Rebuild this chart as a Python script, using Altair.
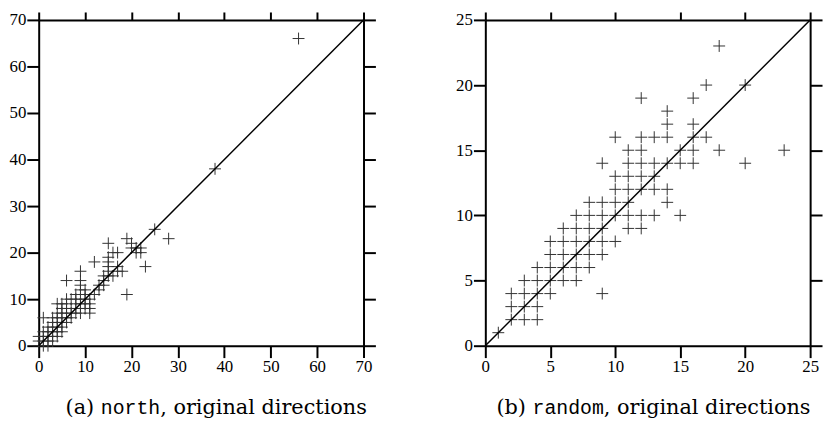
import altair as alt
import pandas as pd

# ---- data ----
north_x = [0,0,0,1,1,1,1,1,2,2,2,2,2,3,3,3,3,3,3,4,4,4,4,4,4,4,5,5,5,5,5,5,5,
           6,6,6,6,6,6,6,7,7,7,7,8,8,8,8,8,9,9,9,9,9,9,9,9,10,10,10,10,10,
           11,11,11,11,12,12,13,13,14,14,14,15,15,15,15,15,15,16,16,17,17,17,18,
           19,19,20,20,21,21,22,22,23,25,28,38,56]
north_y = [0,1,2,0,1,2,3,6,0,1,2,3,4,1,2,3,4,5,6,2,3,4,5,6,7,9,3,4,5,6,7,8,9,
           5,6,7,8,9,10,14,6,7,8,10,7,8,9,10,11,7,8,9,10,12,13,14,16,8,9,10,11,12,
           7,8,9,10,11,18,12,13,13,14,15,15,16,17,18,19,22,15,20,16,17,20,16,
           11,23,21,22,20,21,20,21,17,25,23,38,66]

random_x = [1,
            2,3,4,
            2,3,4,
            2,3,4,5,9,
            3,4,5,6,7,
            4,5,6,7,8,
            5,6,7,8,9,
            5,6,7,8,9,10,
            6,7,8,9,11,12,
            7,8,9,10,11,12,13,15,
            8,9,10,11,14,
            10,11,12,13,14,
            10,11,12,13,
            9,11,12,13,14,15,16,20,
            11,12,15,16,18,23,
            10,12,13,14,16,17,
            14,16,
            14,
            12,16,
            17,20,
            18]
random_y = [1,
            2,2,2,
            3,3,3,
            4,4,4,4,4,
            5,5,5,5,5,
            6,6,6,6,6,
            7,7,7,7,7,
            8,8,8,8,8,8,
            9,9,9,9,9,9,
            10,10,10,10,10,10,10,10,
            11,11,11,11,11,
            12,12,12,12,12,
            13,13,13,13,
            14,14,14,14,14,14,14,14,
            15,15,15,15,15,15,
            16,16,16,16,16,16,
            17,17,
            18,
            19,19,
            20,20,
            23]

north_ticks = [0, 10, 20, 30, 40, 50, 60, 70]
random_ticks = [0, 5, 10, 15, 20, 25]
north_max = 70
random_max = 25

caption_a = ["(a)", "north", ", original directions"]
caption_b = ["(b)", "random", ", original directions"]

# ---- styling ----
W, H = 328, 329
TICK_FONT = "Liberation Serif"
CAP_FONT = "DejaVu Serif"
MONO = "Liberation Mono"
CAP_SIZE = 21
MONO_SIZE = 20
PRE_EM = 1.40      # approx width of "(a)" / "(b)" in DejaVu Serif
SPACE_EM = 0.318
SUFFIX_EM = 9.94   # approx width of ", original directions" in DejaVu Serif
CROSS = "M-1,0L1,0M0,-1L0,1"


def axis(orient, ticks, labels=True, tick=12):
    return alt.Axis(orient=orient, values=ticks, labels=labels, title=None,
                    grid=False, tickSize=tick, tickWidth=2, domainWidth=2,
                    domainColor="black", tickColor="black",
                    labelFont=TICK_FONT, labelFontSize=17, labelColor="black",
                    labelPadding=1, labelFlush=False, labelOverlap=False)


def panel(xs, ys, dmax, ticks, caption, center, cy):
    df = pd.DataFrame({"x": xs, "y": ys})
    diag = pd.DataFrame({"x": [0, dmax], "y": [0, dmax]})
    xsc = alt.Scale(domain=[0, dmax], nice=False, zero=False)
    ysc = alt.Scale(domain=[0, dmax], nice=False, zero=False)

    pts = alt.Chart(df).mark_point(
        shape=CROSS, size=144, filled=False, stroke="#333333",
        strokeWidth=1, opacity=1, clip=False
    ).encode(
        x=alt.X("x:Q", scale=xsc, axis=axis("bottom", ticks)),
        y=alt.Y("y:Q", scale=ysc, axis=axis("left", ticks)),
    )
    line = alt.Chart(diag).mark_line(color="black", strokeWidth=1.5).encode(
        x=alt.X("x:Q", scale=xsc, axis=axis("top", ticks, labels=False, tick=8)),
        y=alt.Y("y:Q", scale=ysc, axis=axis("right", ticks, labels=False)),
    )

    pre_w = PRE_EM * CAP_SIZE
    sp = SPACE_EM * CAP_SIZE
    mono_w = 0.6 * MONO_SIZE * len(caption[1])
    total = pre_w + sp + mono_w + SUFFIX_EM * CAP_SIZE
    mono_start = center - total / 2 + pre_w + sp
    mono_end = mono_start + mono_w

    t_pre = alt.Chart(pd.DataFrame({"t": [caption[0]]})).mark_text(
        font=CAP_FONT, fontSize=CAP_SIZE, align="right", baseline="middle", color="black"
    ).encode(text="t:N", x=alt.value(mono_start - sp), y=alt.value(cy))
    t_mono = alt.Chart(pd.DataFrame({"t": [caption[1]]})).mark_text(
        font=MONO, fontSize=MONO_SIZE, align="left", baseline="middle", color="black"
    ).encode(text="t:N", x=alt.value(mono_start), y=alt.value(cy))
    t_post = alt.Chart(pd.DataFrame({"t": [caption[2]]})).mark_text(
        font=CAP_FONT, fontSize=CAP_SIZE, align="left", baseline="middle", color="black"
    ).encode(text="t:N", x=alt.value(mono_end), y=alt.value(cy))

    return alt.layer(pts, line, t_pre, t_mono, t_post).resolve_axis(
        x="independent", y="independent"
    ).properties(width=W, height=H)


left = panel(north_x, north_y, north_max, north_ticks, caption_a, 179, 392)
right = panel(random_x, random_y, random_max, random_ticks, caption_b, 170, 392)

chart = alt.hconcat(left, right, spacing=78).properties(
    padding=0
).configure_view(stroke=None).configure(background="white")

chart.save("out.html", embed_options={"renderer": "svg", "actions": False})
